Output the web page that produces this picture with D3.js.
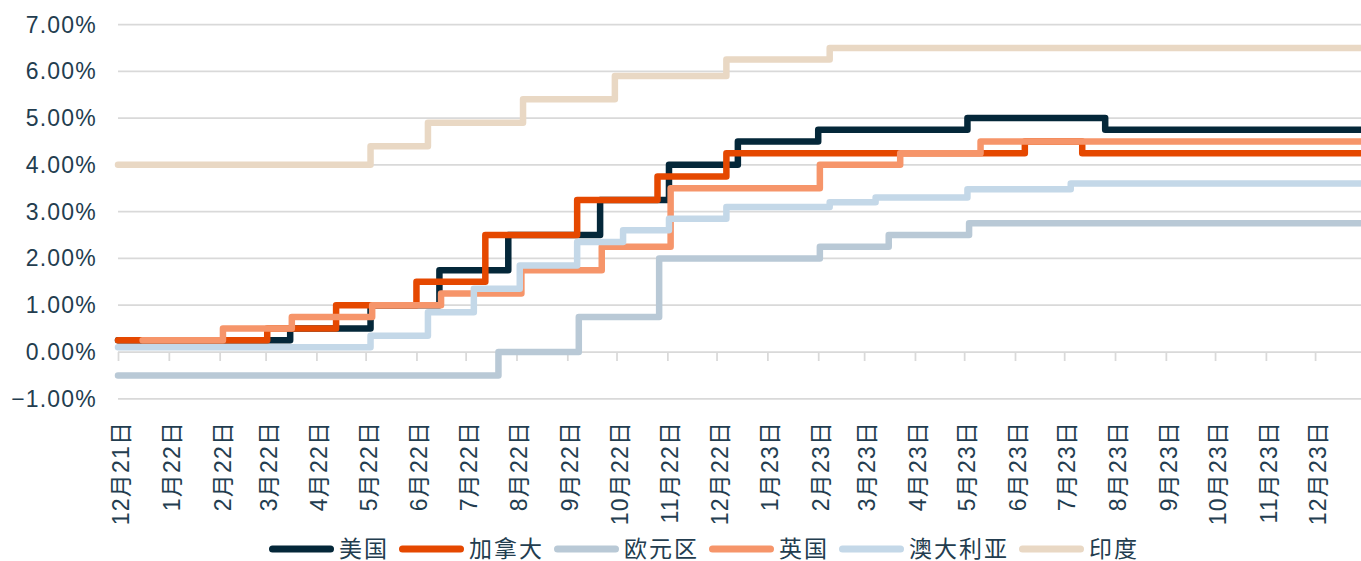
<!DOCTYPE html>
<html>
<head>
<meta charset="utf-8">
<script src="https://cdn.jsdelivr.net/npm/d3@7"></script>
<style>
  body { margin: 0; background: #fff; }
  svg text {
    font-family: "Liberation Sans", "Noto Sans CJK SC", sans-serif;
    fill: #233d4f;
    letter-spacing: 1.2px;
  }
</style>
</head>
<body>
<div id="chart"></div>
<script>
// axis range
const startDate = "2021-12-01";
const endDate = "2023-12-29";
const yTicks = [-1, 0, 1, 2, 3, 4, 5, 6, 7];
const tickLabels = [
  "12月21日", "1月22日", "2月22日", "3月22日", "4月22日", "5月22日", "6月22日",
  "7月22日", "8月22日", "9月22日", "10月22日", "11月22日", "12月22日",
  "1月23日", "2月23日", "3月23日", "4月23日", "5月23日", "6月23日",
  "7月23日", "8月23日", "9月23日", "10月23日", "11月23日", "12月23日"
];

// policy rate change points [date, %]
const usRates = [
  ["2021-12-01", 0.25], ["2022-03-16", 0.5], ["2022-05-04", 1.0], ["2022-06-15", 1.75],
  ["2022-07-27", 2.5], ["2022-09-21", 3.25], ["2022-11-02", 4.0], ["2022-12-14", 4.5],
  ["2023-02-01", 4.75], ["2023-05-03", 5.0], ["2023-07-26", 4.75]
];
const canadaRates = [
  ["2021-12-01", 0.25], ["2022-03-02", 0.5], ["2022-04-13", 1.0], ["2022-06-01", 1.5],
  ["2022-07-13", 2.5], ["2022-09-07", 3.25], ["2022-10-26", 3.75], ["2022-12-07", 4.25],
  ["2023-06-07", 4.5], ["2023-07-12", 4.25]
];
const euroRates = [
  ["2021-12-01", -0.5], ["2022-07-21", 0.0], ["2022-09-08", 0.75], ["2022-10-27", 2.0],
  ["2023-02-02", 2.25], ["2023-03-16", 2.5], ["2023-05-04", 2.75]
];
const ukRates = [
  ["2021-12-16", 0.25], ["2022-02-03", 0.5], ["2022-03-17", 0.75], ["2022-05-05", 1.0],
  ["2022-06-16", 1.25], ["2022-08-04", 1.75], ["2022-09-22", 2.25], ["2022-11-03", 3.5],
  ["2023-02-02", 4.0], ["2023-03-23", 4.25], ["2023-05-11", 4.5]
];
const australiaRates = [
  ["2021-12-01", 0.1], ["2022-05-04", 0.35], ["2022-06-08", 0.85], ["2022-07-06", 1.35],
  ["2022-08-03", 1.85], ["2022-09-07", 2.35], ["2022-10-05", 2.6], ["2022-11-02", 2.85],
  ["2022-12-07", 3.1], ["2023-02-08", 3.2], ["2023-03-08", 3.3], ["2023-05-03", 3.48],
  ["2023-07-05", 3.6]
];
const indiaRates = [
  ["2021-12-01", 4.0], ["2022-05-04", 4.4], ["2022-06-08", 4.9], ["2022-08-05", 5.4],
  ["2022-09-30", 5.9], ["2022-12-07", 6.25], ["2023-02-08", 6.5]
];

const seriesNames = ["美国", "加拿大", "欧元区", "英国", "澳大利亚", "印度"];
const seriesData = [usRates, canadaRates, euroRates, ukRates, australiaRates, indiaRates];
const seriesColors = ["#042739", "#e54800", "#b9c9d6", "#f6956a", "#c4d8e8", "#e9d8c4"];

const width = 1361;
const height = 561;
const plot = { left: 118, right: 1361, top: 24.5, bottom: 398.8 };

const parse = d3.timeParse("%Y-%m-%d");

const svg = d3.select("#chart")
  .append("svg")
  .attr("width", width)
  .attr("height", height);

const x = d3.scaleTime()
  .domain([parse(startDate), parse(endDate)])
  .range([plot.left, plot.right]);

const y = d3.scaleLinear()
  .domain([-1, 7])
  .range([plot.bottom, plot.top]);

// gridlines
svg.append("g")
  .selectAll("line")
  .data(yTicks)
  .join("line")
  .attr("x1", plot.left)
  .attr("x2", plot.right)
  .attr("y1", (d) => y(d))
  .attr("y2", (d) => y(d))
  .attr("stroke", "#d9d9d9")
  .attr("stroke-width", 1.75);

// y labels
svg.append("g")
  .selectAll("text")
  .data(yTicks)
  .join("text")
  .attr("x", 97)
  .attr("y", (d) => y(d))
  .attr("text-anchor", "end")
  .attr("dominant-baseline", "central")
  .attr("font-size", "23px")
  .text((d) => d3.format(".2f")(d) + "%");

// x ticks sit on the zero line
const tickDates = d3.timeMonth.range(parse("2021-12-01"), parse("2024-01-01"));

const xAxisG = svg.append("g")
  .attr("transform", `translate(0,${y(0)})`)
  .call(d3.axisBottom(x).tickValues(tickDates).tickSize(9).tickFormat(""));
xAxisG.select(".domain").remove();
xAxisG.selectAll(".tick line")
  .attr("stroke", "#d9d9d9")
  .attr("stroke-width", 1.75);

// x labels below the plot
const labelTop = plot.bottom + 22;
svg.append("g")
  .selectAll("text")
  .data(tickDates)
  .join("text")
  .attr("transform", (d) => `translate(${x(d) + 3},${labelTop}) rotate(-90)`)
  .attr("text-anchor", "end")
  .attr("dominant-baseline", "central")
  .attr("font-size", "23px")
  .text((d, i) => tickLabels[i]);

// lines
const line = d3.line()
  .x((d) => x(d.date))
  .y((d) => y(d.value))
  .curve(d3.curveStepAfter);

const series = seriesData.map((rates, i) => {
  const values = rates.map(([date, value]) => ({ date: parse(date), value }));
  // hold the last rate to the end of the axis
  values.push({ date: parse(endDate), value: values[values.length - 1].value });
  return { name: seriesNames[i], color: seriesColors[i], values };
});

svg.append("g")
  .selectAll("path")
  .data(series)
  .join("path")
  .attr("d", (d) => line(d.values))
  .attr("fill", "none")
  .attr("stroke", (d) => d.color)
  .attr("stroke-width", 6.5)
  .attr("stroke-linejoin", "round")
  .attr("stroke-linecap", "round");

// legend
const legendY = 549;
const legendCenter = 704;
const legendG = svg.append("g");
let cursor = 0;
series.forEach((s) => {
  const item = legendG.append("g").attr("transform", `translate(${cursor},0)`);
  item.append("line")
    .attr("x1", 3.5)
    .attr("x2", 61.5)
    .attr("y1", legendY)
    .attr("y2", legendY)
    .attr("stroke", s.color)
    .attr("stroke-width", 7)
    .attr("stroke-linecap", "round");
  const t = item.append("text")
    .attr("x", 70)
    .attr("y", legendY)
    .attr("dominant-baseline", "central")
    .attr("font-size", "23px")
    .style("letter-spacing", "2px")
    .text(s.name);
  cursor += 70 + t.node().getComputedTextLength() + 10;
});
const legendWidth = cursor - 10;
legendG.attr("transform", `translate(${legendCenter - legendWidth / 2},0)`);
</script>
</body>
</html>
